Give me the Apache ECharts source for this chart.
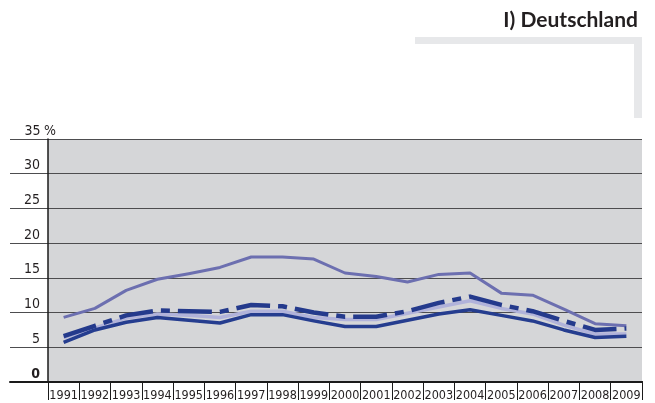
<!doctype html>
<html lang="de">
<head>
<meta charset="UTF-8"/>
<title>Deutschland</title>
<script src="https://cdn.jsdelivr.net/npm/echarts@6/dist/echarts.min.js"></script>
<style>
html, body { margin: 0; padding: 0; background: #fff; }
#chart { width: 655px; height: 403px; }
</style>
</head>
<body>

<div id="chart"></div>

<script>

var years = ['1991','1992','1993','1994','1995','1996','1997','1998','1999','2000',
             '2001','2002','2003','2004','2005','2006','2007','2008','2009'];

// obere Linie (mittelblau)
var seriesTop = [9.3, 10.6, 13.2, 14.8, 15.6, 16.5, 18.0, 18.0, 17.7, 15.7,
                 15.2, 14.4, 15.5, 15.7, 12.8, 12.5, 10.5, 8.4, 8.1];
// gestrichelt (dunkelblau)
var seriesDash = [6.6, 8.1, 9.6, 10.3, 10.2, 10.1, 11.1, 10.9, 10.0, 9.4,
                  9.4, 10.2, 11.4, 12.3, 11.1, 10.2, 8.8, 7.5, 7.7];
// hell (lavendel)
var seriesLight = [6.4, 7.8, 9.2, 9.8, 9.6, 9.3, 10.2, 10.2, 9.3, 9.0,
                   9.0, 9.9, 10.8, 11.7, 10.6, 9.8, 8.2, 6.9, 6.9];
// durchgezogen (dunkelblau)
var seriesSolid = [5.7, 7.5, 8.6, 9.3, 8.9, 8.5, 9.7, 9.7, 8.8, 8.0,
                   8.0, 8.9, 9.8, 10.4, 9.6, 8.8, 7.5, 6.4, 6.6];

var font = '"DejaVu Sans Condensed", "DejaVu Sans", sans-serif';

var myChart = echarts.init(document.getElementById('chart'));

function line(data, color, width, dash) {
    return {
        type: 'line',
        xAxisIndex: 0,
        yAxisIndex: 0,
        data: data,
        symbol: 'none',
        silent: true,
        lineStyle: { color: color, width: width, type: dash || 'solid', cap: 'butt', join: 'round' },
        z: 5
    };
}

var option = {
    animation: false,
    title: {
        text: 'I) Deutschland',
        right: 12,
        top: 5,
        textStyle: { fontFamily: 'Lato, "Open Sans", sans-serif', fontSize: 21, fontWeight: 'bold', color: '#231f20' }
    },
    graphic: [
        { type: 'rect', shape: { x: 415, y: 37, width: 227, height: 7 }, style: { fill: '#e7e8ea' } },
        { type: 'rect', shape: { x: 634, y: 37, width: 8, height: 81 }, style: { fill: '#e7e8ea' } }
    ],
    grid: [
        { left: 48, right: 13, top: 139, bottom: 21, show: true, backgroundColor: '#d5d6d8', borderWidth: 0, z: 0 },
        { left: 10, right: 13, top: 139, bottom: 21, show: false }
    ],
    xAxis: [
        {
            type: 'category',
            gridIndex: 0,
            data: years,
            boundaryGap: true,
            axisLine: { lineStyle: { color: '#1a1a1a', width: 2 } },
            axisTick: { show: true, interval: 0, length: 18, lineStyle: { color: '#1a1a1a', width: 1 } },
            axisLabel: { interval: 0, margin: 7, fontFamily: font, fontSize: 12.5, color: '#231f20' },
            z: 3
        },
        {
            type: 'value',
            gridIndex: 1,
            min: 0, max: 1,
            axisLine: { show: true, onZero: false, lineStyle: { color: '#1a1a1a', width: 2 } },
            axisTick: { show: false },
            axisLabel: { show: false },
            splitLine: { show: false },
            z: 3
        }
    ],
    yAxis: [
        {
            type: 'value',
            gridIndex: 0,
            min: 0, max: 35, interval: 5,
            axisLine: { show: true, lineStyle: { color: '#1a1a1a', width: 1.5 } },
            axisTick: { show: false },
            splitLine: { show: false },
            axisLabel: {
                margin: 23,
                align: 'left',
                verticalAlign: 'bottom',
                padding: [0, 0, 1, 0],
                fontFamily: font,
                fontSize: 14,
                color: '#231f20',
                formatter: function (v) {
                    if (v === 0) return '{b|0}';
                    if (v === 35) return '{n|35} %';
                    return '{n|' + v + '}';
                },
                rich: {
                    n: { width: 15, align: 'right', fontFamily: font, fontSize: 14, color: '#231f20' },
                    b: { width: 15, align: 'right', fontFamily: font, fontSize: 14, fontWeight: 'bold', color: '#231f20' }
                }
            },
            z: 3
        },
        {
            type: 'value',
            gridIndex: 1,
            min: 0, max: 35, interval: 5,
            axisLine: { show: false },
            axisTick: { show: false },
            axisLabel: { show: false },
            splitLine: { show: true, lineStyle: { color: '#4d4d4f', width: 1 } },
            z: 2
        }
    ],
    series: [
        line(seriesTop, '#6c6fb0', 3),
        line(seriesLight, '#b1b3da', 3.5),
        line(seriesSolid, '#253d8f', 3.5),
        line(seriesDash, '#243a8c', 4.5, [34, 8, 9, 8])
    ]
};

myChart.setOption(option);

</script>

</body>
</html>
